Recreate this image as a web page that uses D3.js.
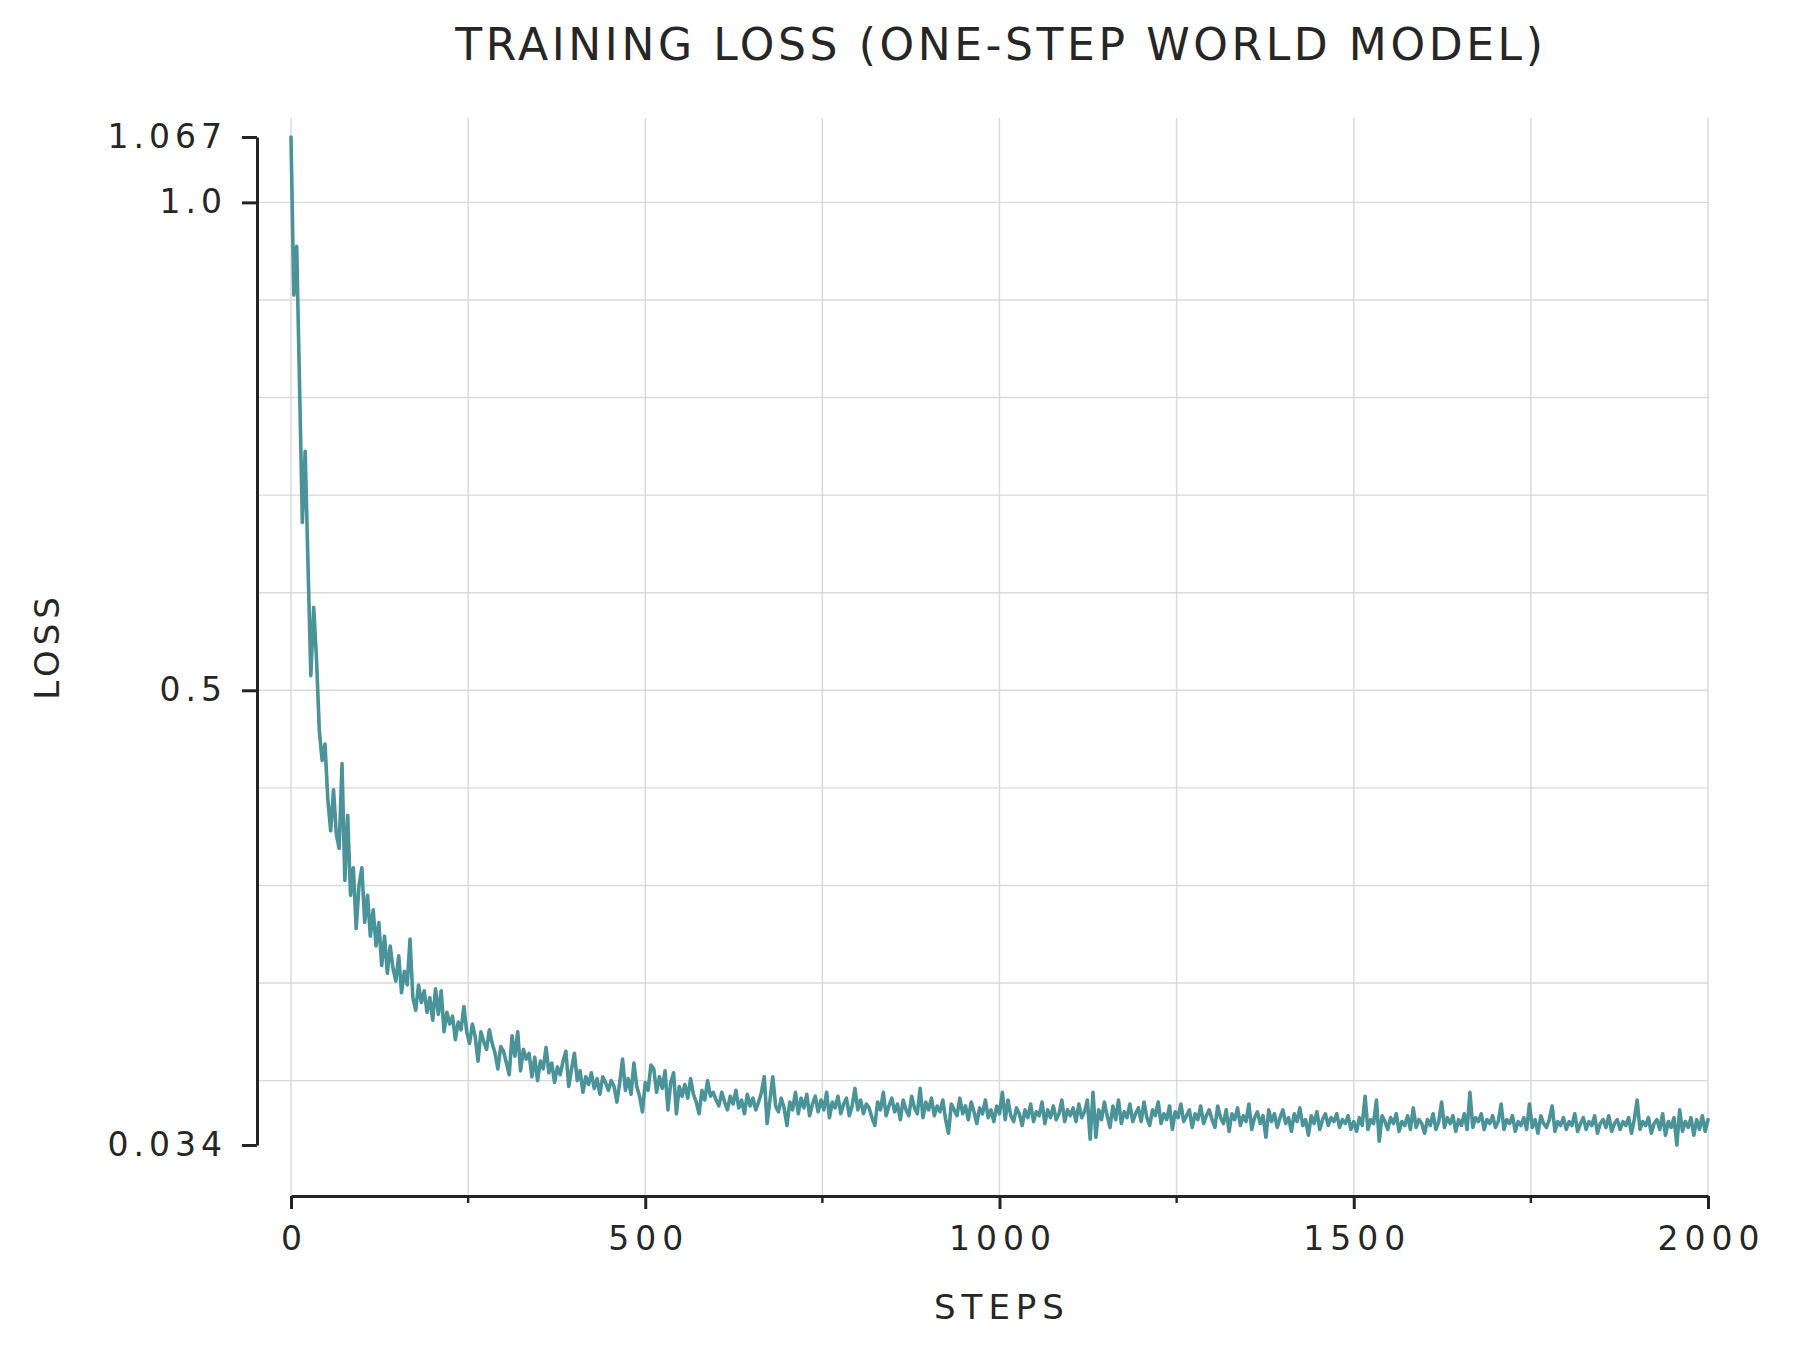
<!DOCTYPE html>
<html>
<head>
<meta charset="utf-8">
<script src="https://cdn.jsdelivr.net/npm/d3@7"></script>
<style>
  body { margin: 0; background: #fff; }
  text { font-family: "DejaVu Sans", sans-serif; fill: #262626; }
</style>
</head>
<body>
<div class="chart"></div>
<script>
const width = 1796;
const height = 1348;

// loss, one value every 4 steps (0..2000)
const stepEvery = 4;
const loss = [
  1.067, 0.905, 0.955, 0.815, 0.672, 0.745, 0.628, 0.515, 0.585, 0.532, 0.458, 0.428, 0.445, 0.388, 0.356, 0.398, 0.352, 0.338, 0.425, 0.305, 0.372, 0.290, 0.318, 0.256, 0.300,
  0.318, 0.262, 0.290, 0.248, 0.275, 0.238, 0.262, 0.218, 0.248, 0.210, 0.238, 0.215, 0.202, 0.228, 0.190, 0.212, 0.198, 0.245, 0.185, 0.172, 0.198, 0.180, 0.192, 0.170, 0.185,
  0.162, 0.194, 0.168, 0.192, 0.150, 0.170, 0.158, 0.166, 0.142, 0.160, 0.152, 0.176, 0.150, 0.138, 0.158, 0.145, 0.120, 0.150, 0.140, 0.132, 0.152, 0.138, 0.128, 0.112, 0.135,
  0.130, 0.118, 0.106, 0.146, 0.125, 0.150, 0.110, 0.132, 0.122, 0.128, 0.104, 0.124, 0.100, 0.120, 0.112, 0.134, 0.108, 0.118, 0.098, 0.114, 0.106, 0.120, 0.130, 0.094, 0.112,
  0.128, 0.100, 0.110, 0.088, 0.104, 0.096, 0.108, 0.092, 0.102, 0.086, 0.104, 0.098, 0.090, 0.100, 0.094, 0.078, 0.098, 0.122, 0.090, 0.102, 0.086, 0.118, 0.094, 0.084, 0.068,
  0.098, 0.090, 0.116, 0.112, 0.088, 0.104, 0.092, 0.110, 0.070, 0.098, 0.108, 0.066, 0.094, 0.084, 0.096, 0.082, 0.102, 0.086, 0.078, 0.066, 0.090, 0.080, 0.100, 0.084, 0.088,
  0.080, 0.074, 0.088, 0.078, 0.070, 0.084, 0.076, 0.090, 0.072, 0.080, 0.066, 0.086, 0.074, 0.082, 0.070, 0.078, 0.088, 0.104, 0.056, 0.080, 0.104, 0.074, 0.068, 0.082, 0.072,
  0.054, 0.078, 0.070, 0.088, 0.066, 0.082, 0.072, 0.086, 0.064, 0.076, 0.084, 0.068, 0.080, 0.070, 0.088, 0.062, 0.078, 0.072, 0.084, 0.066, 0.076, 0.082, 0.064, 0.074, 0.092,
  0.070, 0.080, 0.066, 0.076, 0.072, 0.062, 0.054, 0.078, 0.070, 0.088, 0.064, 0.074, 0.082, 0.068, 0.076, 0.060, 0.080, 0.070, 0.064, 0.084, 0.072, 0.066, 0.092, 0.062, 0.078,
  0.070, 0.082, 0.064, 0.074, 0.068, 0.080, 0.060, 0.046, 0.076, 0.070, 0.064, 0.082, 0.066, 0.074, 0.060, 0.078, 0.068, 0.056, 0.072, 0.066, 0.080, 0.062, 0.070, 0.058, 0.074,
  0.066, 0.088, 0.060, 0.080, 0.064, 0.058, 0.072, 0.066, 0.054, 0.070, 0.062, 0.076, 0.058, 0.068, 0.064, 0.078, 0.056, 0.070, 0.062, 0.074, 0.060, 0.066, 0.080, 0.058, 0.070,
  0.064, 0.072, 0.058, 0.076, 0.062, 0.068, 0.080, 0.040, 0.088, 0.042, 0.070, 0.060, 0.078, 0.064, 0.052, 0.074, 0.060, 0.080, 0.056, 0.068, 0.062, 0.076, 0.058, 0.066, 0.072,
  0.058, 0.078, 0.062, 0.054, 0.070, 0.064, 0.078, 0.056, 0.066, 0.060, 0.074, 0.050, 0.068, 0.062, 0.076, 0.058, 0.064, 0.070, 0.052, 0.066, 0.060, 0.074, 0.056, 0.064, 0.070,
  0.060, 0.052, 0.074, 0.062, 0.056, 0.070, 0.048, 0.066, 0.060, 0.072, 0.054, 0.064, 0.058, 0.076, 0.050, 0.062, 0.068, 0.056, 0.064, 0.042, 0.070, 0.058, 0.066, 0.052, 0.062,
  0.070, 0.056, 0.062, 0.048, 0.066, 0.058, 0.072, 0.054, 0.060, 0.044, 0.064, 0.056, 0.068, 0.050, 0.060, 0.066, 0.054, 0.062, 0.058, 0.066, 0.052, 0.060, 0.056, 0.064, 0.050,
  0.058, 0.048, 0.062, 0.054, 0.084, 0.050, 0.060, 0.056, 0.080, 0.038, 0.064, 0.058, 0.050, 0.062, 0.056, 0.066, 0.048, 0.058, 0.054, 0.064, 0.050, 0.072, 0.052, 0.060, 0.056,
  0.046, 0.060, 0.054, 0.066, 0.050, 0.058, 0.078, 0.052, 0.062, 0.056, 0.064, 0.048, 0.060, 0.054, 0.066, 0.050, 0.088, 0.052, 0.062, 0.058, 0.066, 0.050, 0.060, 0.056, 0.064,
  0.052, 0.058, 0.076, 0.050, 0.060, 0.056, 0.064, 0.048, 0.058, 0.054, 0.062, 0.050, 0.076, 0.052, 0.060, 0.046, 0.064, 0.056, 0.052, 0.060, 0.074, 0.048, 0.058, 0.054, 0.062,
  0.050, 0.058, 0.054, 0.066, 0.048, 0.056, 0.062, 0.050, 0.058, 0.054, 0.064, 0.046, 0.056, 0.060, 0.052, 0.064, 0.048, 0.056, 0.060, 0.050, 0.058, 0.054, 0.062, 0.046, 0.060,
  0.080, 0.050, 0.058, 0.054, 0.062, 0.046, 0.056, 0.060, 0.050, 0.066, 0.044, 0.058, 0.052, 0.062, 0.034, 0.070, 0.048, 0.058, 0.052, 0.062, 0.044, 0.060, 0.050, 0.064, 0.048,
  0.060
];
const steps = loss.map((d, i) => i * stepEvery);

const xTicks = [0, 500, 1000, 1500, 2000];
const xMinorTicks = [250, 750, 1250, 1750];
const xGrid = [0, 250, 500, 750, 1000, 1250, 1500, 1750, 2000];
const yTicks = [0.034, 0.5, 1.0, 1.067];
const yTickLabels = ["0.034", "0.5", "1.0", "1.067"];
const yGrid = [0.1, 0.2, 0.3, 0.4, 0.5, 0.6, 0.7, 0.8, 0.9, 1.0];

const titleText = "TRAINING LOSS (ONE-STEP WORLD MODEL)";
const xLabel = "STEPS";
const yLabel = "LOSS";

const lineColor = "#4a9399";
const inkColor = "#242424";

// plot box (pixels)
const plotLeft = 257, plotRight = 1708, plotTop = 118, plotBottom = 1196;

const svg = d3.select('.chart')
  .append('svg')
  .attr('width', width)
  .attr('height', height)
  .style('background', '#fff');

const xScale = d3.scaleLinear()
  .domain([0, 2000])
  .range([291, 1708]);

const yScale = d3.scaleLinear()
  .domain([0.034, 1.067])
  .range([1145, 137]);

// grid
svg.append('g').attr('class', 'grid')
  .selectAll('line.h')
  .data(yGrid)
  .join('line')
  .attr('x1', plotLeft).attr('x2', plotRight)
  .attr('y1', d => yScale(d)).attr('y2', d => yScale(d))
  .attr('stroke', '#d9d9d9').attr('stroke-width', 1.4);

svg.append('g').attr('class', 'grid')
  .selectAll('line.v')
  .data(xGrid)
  .join('line')
  .attr('x1', d => xScale(d)).attr('x2', d => xScale(d))
  .attr('y1', plotTop).attr('y2', plotBottom)
  .attr('stroke', '#d9d9d9').attr('stroke-width', 1.4);

// loss curve
const line = d3.line()
  .x((d, i) => xScale(steps[i]))
  .y(d => yScale(d));

svg.append('path')
  .datum(loss)
  .attr('fill', 'none')
  .attr('stroke', lineColor)
  .attr('stroke-width', 3.6)
  .attr('stroke-linejoin', 'round')
  .attr('stroke-linecap', 'round')
  .attr('d', line);

// y axis (range frame)
const yAxis = d3.axisLeft(yScale)
  .tickValues(yTicks)
  .tickFormat((d, i) => yTickLabels[i])
  .tickSize(15)
  .tickSizeOuter(0)
  .tickPadding(15);

const gy = svg.append('g')
  .attr('transform', `translate(${plotLeft},0)`)
  .call(yAxis);
gy.select('.domain').attr('stroke', inkColor).attr('stroke-width', 3);
gy.selectAll('.tick line').attr('stroke', inkColor).attr('stroke-width', 3);
gy.selectAll('.tick text')
  .attr('font-family', '"DejaVu Sans", sans-serif')
  .attr('font-size', 33)
  .attr('letter-spacing', '5px')
  .attr('fill', inkColor);

// x axis
const xAxis = d3.axisBottom(xScale)
  .tickValues(xTicks)
  .tickFormat(d3.format('d'))
  .tickSize(13)
  .tickSizeOuter(0);

const gx = svg.append('g')
  .attr('transform', `translate(0,${plotBottom})`)
  .call(xAxis);
gx.select('.domain').attr('stroke', inkColor).attr('stroke-width', 3);
gx.selectAll('.tick line').attr('stroke', inkColor).attr('stroke-width', 3);
gx.selectAll('.tick text')
  .attr('font-family', '"DejaVu Sans", sans-serif')
  .attr('font-size', 33)
  .attr('letter-spacing', '6px')
  .attr('dx', 3)
  .attr('dy', null)
  .attr('y', 54)
  .attr('fill', inkColor);

gx.selectAll('.minor')
  .data(xMinorTicks)
  .join('line')
  .attr('class', 'minor')
  .attr('x1', d => xScale(d)).attr('x2', d => xScale(d))
  .attr('y1', 0).attr('y2', 7)
  .attr('stroke', inkColor).attr('stroke-width', 2.4);

// labels
svg.append('text')
  .attr('x', 999 + 1.8)
  .attr('y', 60)
  .attr('text-anchor', 'middle')
  .attr('font-size', 44)
  .attr('letter-spacing', '3.6px')
  .text(titleText);

svg.append('text')
  .attr('x', 999 + 3)
  .attr('y', 1319)
  .attr('text-anchor', 'middle')
  .attr('font-size', 34)
  .attr('letter-spacing', '6px')
  .text(xLabel);

svg.append('text')
  .attr('transform', 'translate(59,646) rotate(-90)')
  .attr('text-anchor', 'middle')
  .attr('font-size', 34)
  .attr('letter-spacing', '5px')
  .text(yLabel);
</script>
</body>
</html>
